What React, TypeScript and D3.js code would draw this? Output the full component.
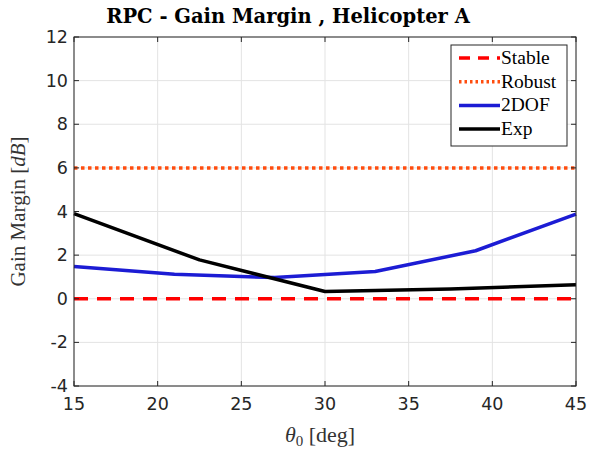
import React from "react";
import * as d3 from "d3";

// pitch angle samples (deg) and gain margins (dB)
const expTheta = [15, 22.5, 30, 37.5, 45];
const expGM = [3.9, 1.78, 0.33, 0.45, 0.64];
const dofTheta = [15, 21, 27, 33, 39, 45];
const dofGM = [1.48, 1.12, 0.97, 1.25, 2.2, 3.88];
const stableLevel = 0;
const robustLevel = 6;
const xTicks = [15, 20, 25, 30, 35, 40, 45];
const yTicks = [-4, -2, 0, 2, 4, 6, 8, 10, 12];

const W = 592;
const H = 452;
const m = { left: 74, right: 16, top: 37, bottom: 66 };

export default function App() {
  const x = d3.scaleLinear().domain([15, 45]).range([m.left, W - m.right]);
  const y = d3.scaleLinear().domain([-4, 12]).range([H - m.bottom, m.top]);
  const line = d3
    .line<[number, number]>()
    .x((d) => x(d[0]))
    .y((d) => y(d[1]));

  const expPts = expTheta.map((t, i) => [t, expGM[i]] as [number, number]);
  const dofPts = dofTheta.map((t, i) => [t, dofGM[i]] as [number, number]);

  const [x0, x1] = x.range();
  const [yb, yt] = y.range();
  const serif = "'Liberation Serif', 'DejaVu Serif', serif";
  const sans = "'DejaVu Sans', sans-serif";

  const legend = [
    { label: "Stable", color: "#ff0000", dash: "11,8" },
    { label: "Robust", color: "#ff4d0f", dash: "2.5,3" },
    { label: "2DOF", color: "#1c1cd4", dash: "" },
    { label: "Exp", color: "#000000", dash: "" },
  ];
  const lx = 451;
  const ly = 45;

  return (
    <svg width={W} height={H} style={{ position: "absolute", left: 0, top: 0, background: "#fff" }}>
      {/* grid */}
      {xTicks.map((t) => (
        <line key={"gx" + t} x1={x(t)} x2={x(t)} y1={yb} y2={yt} stroke="#e3e3e3" />
      ))}
      {yTicks.map((t) => (
        <line key={"gy" + t} x1={x0} x2={x1} y1={y(t)} y2={y(t)} stroke="#e3e3e3" />
      ))}

      {/* reference levels */}
      <line x1={x0} x2={x1} y1={y(stableLevel)} y2={y(stableLevel)} stroke="#ff0000" strokeWidth={3.5} strokeDasharray="14,9" />
      <line x1={x0} x2={x1} y1={y(robustLevel)} y2={y(robustLevel)} stroke="#ff4d0f" strokeWidth={3.5} strokeDasharray="3.5,3.5" />

      {/* series */}
      <path d={line(dofPts) ?? ""} fill="none" stroke="#1c1cd4" strokeWidth={3.5} strokeLinejoin="round" />
      <path d={line(expPts) ?? ""} fill="none" stroke="#000" strokeWidth={3.5} strokeLinejoin="round" />

      {/* box and ticks */}
      <rect x={x0} y={yt} width={x1 - x0} height={yb - yt} fill="none" stroke="#262626" strokeWidth={1} />
      {xTicks.map((t) => (
        <g key={"tx" + t}>
          <line x1={x(t)} x2={x(t)} y1={yb} y2={yb - 5} stroke="#262626" />
          <line x1={x(t)} x2={x(t)} y1={yt} y2={yt + 5} stroke="#262626" />
          <text x={x(t)} y={yb + 24} textAnchor="middle" fontFamily={sans} fontSize={17.5} fill="#262626">
            {t}
          </text>
        </g>
      ))}
      {yTicks.map((t) => (
        <g key={"ty" + t}>
          <line x1={x0} x2={x0 + 5} y1={y(t)} y2={y(t)} stroke="#262626" />
          <line x1={x1} x2={x1 - 5} y1={y(t)} y2={y(t)} stroke="#262626" />
          <text x={x0 - 6} y={y(t) + 6} textAnchor="end" fontFamily={sans} fontSize={17.5} fill="#262626">
            {t}
          </text>
        </g>
      ))}

      {/* legend */}
      <rect x={lx} y={ly} width={116} height={101} fill="#fff" stroke="#262626" strokeWidth={1} />
      {legend.map((d, i) => {
        const cy = ly + 13 + i * 23.7;
        return (
          <g key={d.label}>
            <line x1={lx + 8} x2={lx + 49} y1={cy} y2={cy} stroke={d.color} strokeWidth={3.5} strokeDasharray={d.dash || undefined} />
            <text x={lx + 50} y={cy + 6} fontFamily={serif} fontSize={19.5} fill="#000">
              {d.label}
            </text>
          </g>
        );
      })}

      {/* title */}
      <text x={288} y={23} textAnchor="middle" fontFamily="'DejaVu Serif', serif" fontWeight="bold" fontSize={19.5} fill="#000">
        RPC - Gain Margin , Helicopter A
      </text>

      {/* axis labels */}
      <text x={320} y={442} textAnchor="middle" fontFamily={serif} fontSize={22} fill="#333">
        <tspan fontStyle="italic">θ</tspan>
        <tspan fontSize={15} dy={4}>0</tspan>
        <tspan dy={-4}> [deg]</tspan>
      </text>
      <text
        transform={`translate(25, ${(yb + yt) / 2}) rotate(-90)`}
        textAnchor="middle"
        fontFamily={serif}
        fontSize={21}
        fill="#333"
      >
        Gain Margin [<tspan fontStyle="italic">dB</tspan>]
      </text>
    </svg>
  );
}
